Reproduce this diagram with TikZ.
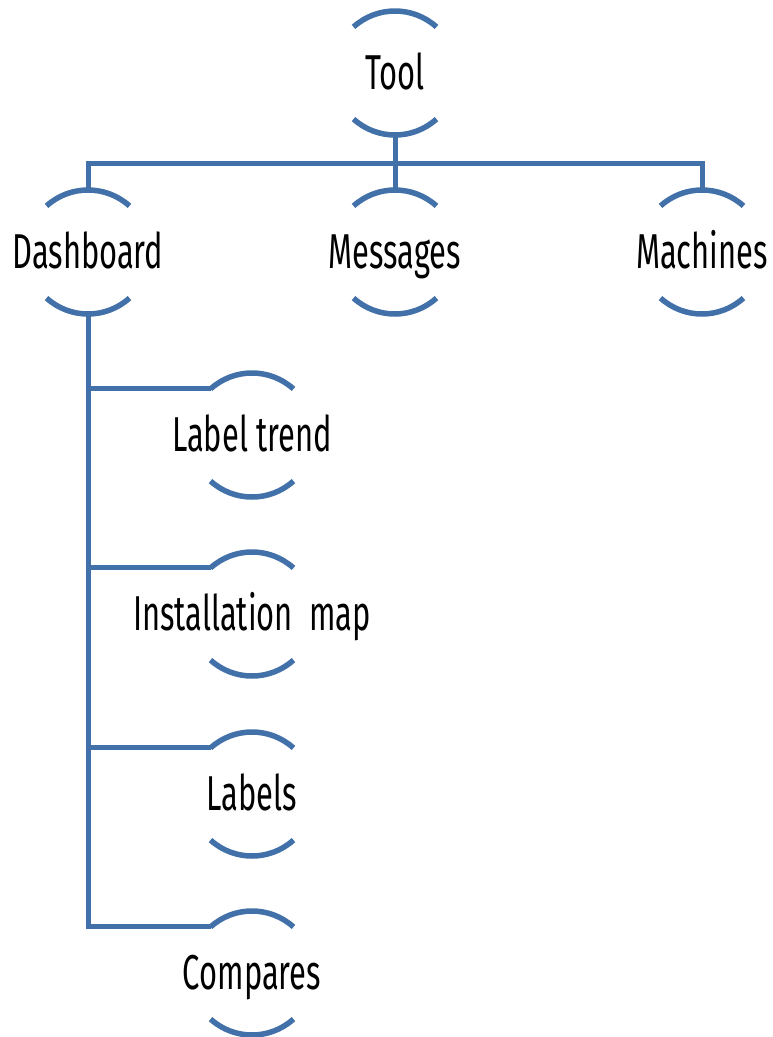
\documentclass[tikz,border=0pt]{standalone}
\usepackage{fontspec}
\setmainfont[FakeStretch=0.63]{Fira Sans}
\usetikzlibrary{calc}
\definecolor{lineblue}{RGB}{66,112,168}
\tikzset{
  lbl/.style={font=\fontsize{49}{49}\selectfont, inner sep=0pt, text height=33.8pt, text depth=0pt, anchor=center},
  conn/.style={draw=lineblue, line width=5pt},
  ring/.style={draw=lineblue, line width=5.5pt}
}
\begin{document}
\begin{tikzpicture}[x=1pt,y=1pt]
\useasboundingbox (0,0) rectangle (772,-1037);
\foreach \n/\x/\y/\t in {tool/395/73/Tool, dash/88/252/Dashboard, msg/395/252/Messages, mach/702/252/Machines, trend/252/435/{Label trend}, map/252/614/{Installation\ \ map}, labels/252/794/Labels, comp/252/973/Compares}{
  \node[lbl] (\n) at (\x,-\y) {\t};
  \coordinate (\n-c) at (\x,-\y);
  \coordinate (\n-t) at ($(\n-c)+(0,62)$);
  \coordinate (\n-b) at ($(\n-c)+(0,-62)$);
  \coordinate (\n-l) at ($(\n-c)+(132:62)$);
  \draw[ring] ($(\n-c)+(48:62)$) arc[start angle=48, end angle=132, radius=62];
  \draw[ring] ($(\n-c)+(228:62)$) arc[start angle=228, end angle=312, radius=62];
}
\coordinate (bar) at (0,-163);
\draw[conn] (tool-b) -- (msg-t);
\draw[conn] (dash-t) -- (dash-t |- bar) -- (mach-t |- bar) -- (mach-t);
\draw[conn] (dash-b) -- (dash-b |- comp-l) -- (comp-l);
\draw[conn] (dash-b |- trend-l) -- (trend-l);
\draw[conn] (dash-b |- map-l) -- (map-l);
\draw[conn] (dash-b |- labels-l) -- (labels-l);
\end{tikzpicture}
\end{document}
